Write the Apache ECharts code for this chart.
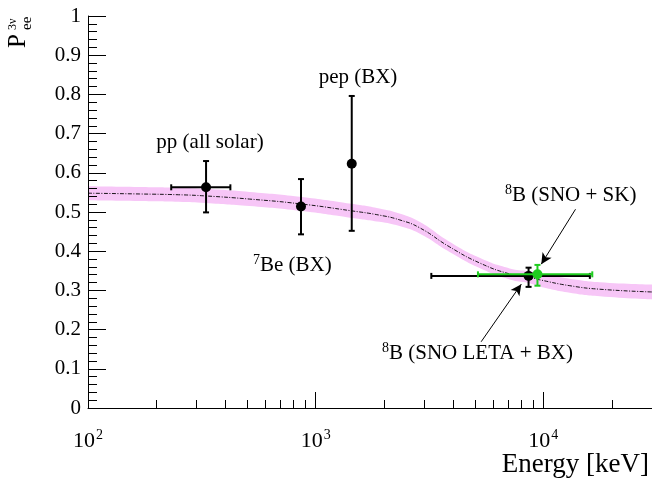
<!DOCTYPE html>
<html><head><meta charset="utf-8">
<script src="https://cdn.jsdelivr.net/npm/echarts@6/dist/echarts.min.js"></script>
<style>html,body{margin:0;padding:0;background:#fff}#c{width:652px;height:486px}</style>
</head><body><div id="c"></div><script>
// MSW-LMA survival probability curve
const curveE = [100, 168, 250, 328, 512, 849, 1436, 1905, 2333, 2857, 3873, 5250, 7110, 8610, 9640, 13060, 17700, 30000];
const curveP = [0.548, 0.546, 0.544, 0.541, 0.533, 0.521, 0.503, 0.492, 0.480, 0.460, 0.411, 0.370, 0.342, 0.334, 0.327, 0.312, 0.303, 0.296];
const bandLo = [0.530, 0.528, 0.526, 0.523, 0.515, 0.503, 0.485, 0.475, 0.464, 0.445, 0.398, 0.357, 0.328, 0.319, 0.310, 0.294, 0.285, 0.277];
const bandHi = [0.566, 0.564, 0.562, 0.559, 0.551, 0.539, 0.521, 0.509, 0.496, 0.475, 0.424, 0.383, 0.356, 0.349, 0.344, 0.330, 0.321, 0.315];

// measurements
const ptNames = ['pp (all solar)', '7Be (BX)', 'pep (BX)', '8B (SNO LETA + BX)', '8B (SNO + SK)'];
const ptE   = [330, 862, 1440, 8610, 9420];
const ptP   = [0.563, 0.514, 0.623, 0.337, 0.341];
const ptPLo = [0.499, 0.443, 0.452, 0.309, 0.312];
const ptPHi = [0.630, 0.584, 0.796, 0.358, 0.365];
const ptELo = [232, 862, 1440, 3220, 5160];
const ptEHi = [422, 862, 1440, 16000, 16400];

// axis ticks
const xMajorTicks = [100, 1000, 10000];
const xMinorTicks = [200, 300, 400, 500, 600, 700, 800, 900, 2000, 3000, 4000, 5000, 6000, 7000, 8000, 9000, 20000];

const FONT = 'Liberation Serif';
const chart = echarts.init(document.getElementById('c'), null, {renderer: 'canvas'});

const loData = curveE.map((e, i) => [e, bandLo[i]]);
const hiData = curveE.map((e, i) => [e, bandHi[i]]);
const cData = curveE.map((e, i) => [e, curveP[i]]);
const ptRows = ptE.map((e, i) => [e, ptP[i], ptPLo[i], ptPHi[i], ptELo[i], ptEHi[i]]);

function errItem(params, api) {
  const e = api.value(0), p = api.value(1), plo = api.value(2), phi = api.value(3), elo = api.value(4), ehi = api.value(5);
  const c = api.coord([e, p]);
  const t = api.coord([e, phi]);
  const b = api.coord([e, plo]);
  const color = api.visual('color');
  const st = {stroke: color, lineWidth: 2};
  const ch = [];
  if (elo !== ehi) {
    const l = api.coord([elo, p]);
    const r = api.coord([ehi, p]);
    ch.push({type: 'line', shape: {x1: l[0], y1: c[1], x2: r[0], y2: c[1]}, style: st});
    ch.push({type: 'line', shape: {x1: l[0], y1: c[1] - 3, x2: l[0], y2: c[1] + 3}, style: st});
    ch.push({type: 'line', shape: {x1: r[0], y1: c[1] - 3, x2: r[0], y2: c[1] + 3}, style: st});
  }
  ch.push({type: 'line', shape: {x1: c[0], y1: t[1], x2: c[0], y2: b[1]}, style: st});
  ch.push({type: 'line', shape: {x1: c[0] - 3, y1: t[1], x2: c[0] + 3, y2: t[1]}, style: st});
  ch.push({type: 'line', shape: {x1: c[0] - 3, y1: b[1], x2: c[0] + 3, y2: b[1]}, style: st});
  ch.push({type: 'circle', shape: {cx: c[0], cy: c[1], r: 5}, style: {fill: color}});
  return {type: 'group', children: ch};
}

const labelRich = {
  b: {fontFamily: FONT, fontSize: 22, color: '#000', lineHeight: 24, verticalAlign: 'bottom'},
  s: {fontFamily: FONT, fontSize: 14, color: '#000', lineHeight: 24, verticalAlign: 'top', padding: [0, 0, 0, 1]}
};
const annRich = {
  s: {fontFamily: FONT, fontSize: 14, color: '#000', lineHeight: 23, verticalAlign: 'top'},
  t: {fontFamily: FONT, fontSize: 21, color: '#000', lineHeight: 23}
};

const option = {
  animation: false,
  backgroundColor: '#fff',
  grid: {left: 88, right: 0, top: 16, bottom: 78, containLabel: false},
  xAxis: [{
    type: 'log', logBase: 10, min: 100, max: 30000, position: 'bottom', z: 10,
    axisLine: {show: true, lineStyle: {color: '#000', width: 1}},
    axisTick: {show: true, inside: true, length: 16, customValues: xMajorTicks, lineStyle: {color: '#000'}},
    axisLabel: {
      show: true, customValues: xMajorTicks, margin: 20,
      formatter: v => '{b|10}{s|' + Math.round(Math.log10(v)) + '}',
      rich: labelRich
    },
    splitLine: {show: false}, minorTick: {show: false}, minorSplitLine: {show: false}
  }, {
    type: 'log', logBase: 10, min: 100, max: 30000, position: 'bottom', offset: 0, z: 10,
    axisLine: {show: false},
    axisTick: {show: true, inside: true, length: 8, customValues: xMinorTicks, lineStyle: {color: '#000'}},
    axisLabel: {show: false},
    splitLine: {show: false}
  }],
  yAxis: {
    type: 'value', min: 0, max: 1, interval: 0.1, z: 10,
    axisLine: {show: true, lineStyle: {color: '#000', width: 1}},
    axisTick: {show: true, inside: true, length: 18, lineStyle: {color: '#000'}},
    minorTick: {show: true, splitNumber: 5, length: 9, lineStyle: {color: '#000'}},
    splitLine: {show: false},
    axisLabel: {color: '#000', fontFamily: FONT, fontSize: 21, margin: 7,
      formatter: v => (Math.abs(v) < 1e-9 ? '0' : (Math.abs(v - 1) < 1e-9 ? '1' : v.toFixed(1)))}
  },
  series: [
    {type: 'line', name: 'bandHi', xAxisIndex: 0, data: hiData, smooth: true, symbol: 'none',
     lineStyle: {opacity: 0}, areaStyle: {color: '#f7c6f7', opacity: 1, origin: 'start'}, silent: true, z: 1},
    {type: 'line', name: 'bandLo', xAxisIndex: 0, data: loData, smooth: true, symbol: 'none',
     lineStyle: {opacity: 0}, areaStyle: {color: '#ffffff', opacity: 1, origin: 'start'}, silent: true, z: 1},
    {type: 'line', name: 'curve', xAxisIndex: 0, data: cData, smooth: true, symbol: 'none',
     lineStyle: {color: '#000', width: 0.9, type: [4, 1.5, 1, 1.5]}, silent: true, z: 2,
     markLine: {
       silent: true, symbol: ['none', 'arrow'], symbolSize: [8, 11], label: {show: false},
       lineStyle: {color: '#000', width: 1, type: 'solid'},
       data: [
         [{coord: [13840, 0.507]}, {coord: [9790, 0.367]}],
         [{coord: [5330, 0.169]}, {coord: [8000, 0.316]}]
       ]
     }},
    {type: 'custom', name: 'black', xAxisIndex: 0, renderItem: errItem, data: ptRows.slice(0, 4),
     itemStyle: {color: '#000'}, encode: {x: 0, y: 1}, z: 5},
    {type: 'custom', name: 'green', xAxisIndex: 0, renderItem: errItem, data: ptRows.slice(4),
     itemStyle: {color: '#1fcc1f'}, encode: {x: 0, y: 1}, z: 6}
  ],
  graphic: [
    {type: 'text', z: 100, x: 210, y: 142, style: {text: ptNames[0], font: '21px "Liberation Serif"', fill: '#000', align: 'center', verticalAlign: 'middle'}},
    {type: 'text', z: 100, x: 253, y: 265, style: {text: '{s|7}{t|Be (BX)}', rich: annRich, align: 'left', verticalAlign: 'middle'}},
    {type: 'text', z: 100, x: 358, y: 77, style: {text: ptNames[2], font: '21px "Liberation Serif"', fill: '#000', align: 'center', verticalAlign: 'middle'}},
    {type: 'text', z: 100, x: 505, y: 195, style: {text: '{s|8}{t|B (SNO + SK)}', rich: annRich, align: 'left', verticalAlign: 'middle'}},
    {type: 'text', z: 100, x: 382, y: 353, style: {text: '{s|8}{t|B (SNO LETA + BX)}', rich: annRich, align: 'left', verticalAlign: 'middle'}},
    {type: 'text', z: 100, x: 649, y: 465, style: {text: 'Energy [keV]', font: '27px "Liberation Serif"', fill: '#000', align: 'right', verticalAlign: 'middle'}},
    {type: 'group', z: 100, x: 26, y: 48, rotation: Math.PI / 2, children: [
      {type: 'text', x: 0, y: -8, style: {text: 'P', font: '25px "Liberation Serif"', fill: '#000', align: 'left', verticalAlign: 'middle'}},
      {type: 'text', x: 18, y: -13, style: {text: '3ν', font: '12px "Liberation Serif"', fill: '#000', align: 'left', verticalAlign: 'middle'}},
      {type: 'text', x: 18, y: 1, style: {text: 'ee', font: '15px "Liberation Serif"', fill: '#000', align: 'left', verticalAlign: 'middle'}}
    ]}
  ]
};
chart.setOption(option);
</script></body></html>
